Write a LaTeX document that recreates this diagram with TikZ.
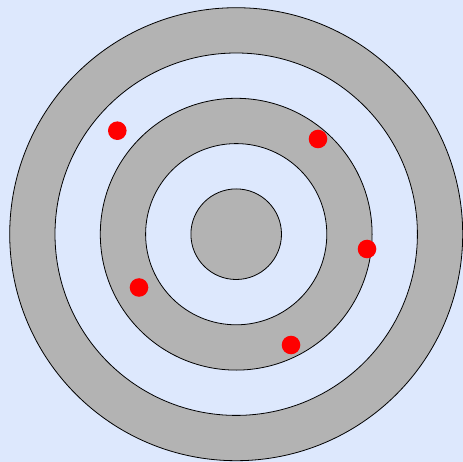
\documentclass[tikz,border=0pt]{standalone}
\usepackage{xcolor}
\usepackage{tikz}

\definecolor{bgblue}{HTML}{DDE8FD}
\definecolor{ringgray}{HTML}{B3B3B3}

\begin{document}
\begin{tikzpicture}[
  x=1pt, y=-1pt,
  ring/.style={draw=black, line width=0.8pt},
  hit/.style={fill=red, draw=none}
]
  \fill[bgblue] (0,0) rectangle (463,462);
  \useasboundingbox (0,0) rectangle (463,462);
  \coordinate (centre) at (236.2,234.2);
  % rings, outside in
  \foreach \k/\col in {5/ringgray, 4/bgblue, 3/ringgray, 2/bgblue, 1/ringgray}
    \draw[ring, fill=\col] (centre) circle ({\k*45.3});
  % hits
  \foreach \x/\y in {117.3/130.7, 318/139, 367/249, 139/287.5, 291/345}
    \fill[hit] (\x,\y) circle (9.3);
\end{tikzpicture}
\end{document}
